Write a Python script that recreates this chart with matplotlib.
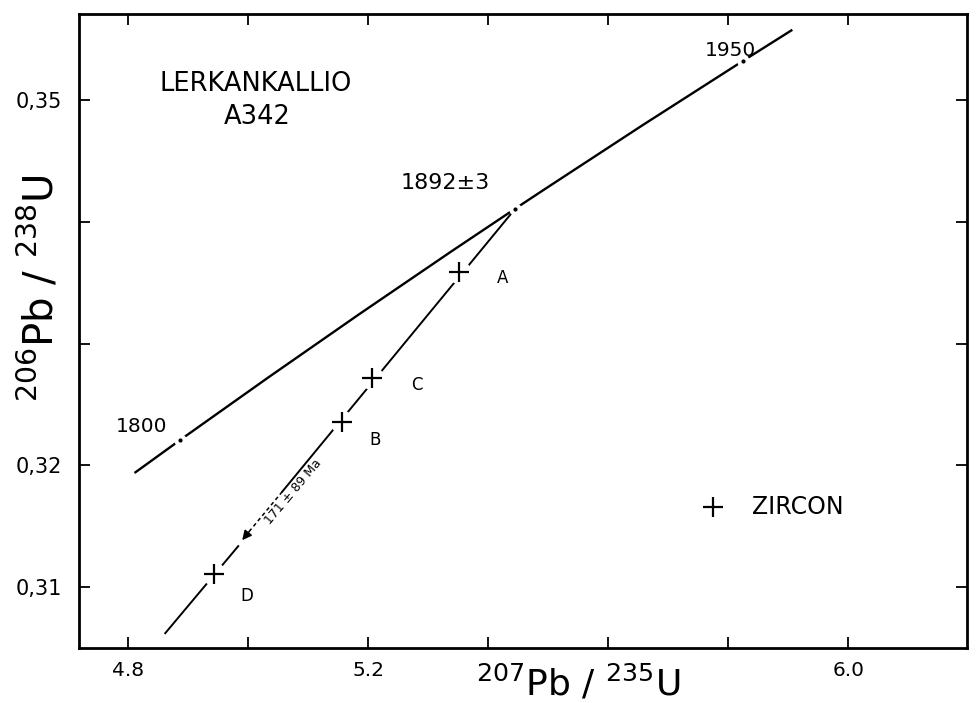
import matplotlib.pyplot as plt

# concordia points (ages in Ma)
conc_age = [1787, 1800, 1825, 1850, 1875, 1892, 1900, 1925, 1950, 1962]
conc_x = [4.812, 4.8869, 5.0336, 5.1840, 5.3382, 5.4452, 5.4962, 5.6581, 5.8241, 5.9052]
conc_y = [0.31944, 0.32211, 0.32724, 0.33240, 0.33758, 0.34111, 0.34277, 0.34799, 0.35323, 0.35575]
marked_ages = [1800, 1892, 1950]

# zircon fractions
frac_names = ['A', 'C', 'B', 'D']
frac_x = [5.3517, 5.2067, 5.1567, 4.9433]
frac_y = [0.33587, 0.32717, 0.32355, 0.31107]

# discordia pieces
disc_upper_x = [5.4452, 5.0567]
disc_upper_y = [0.34111, 0.31785]
disc_dash_x = [5.0567, 5.0033]
disc_dash_y = [0.31785, 0.31468]
arrow_tip = (4.990, 0.31386)
disc_lower_x = [4.9833, 4.8617]
disc_lower_y = [0.31337, 0.30622]

x_ticks = [4.8, 5.0, 5.2, 5.4, 5.6, 5.8, 6.0]
x_labels = ['4.8', '', '5.2', '', '', '', '6.0']
y_ticks = [0.31, 0.32, 0.33, 0.34, 0.35]
y_labels = ['0,31', '0,32', '', '', '0,35']

fig = plt.figure(figsize=(9.77, 7.03), dpi=100)
ax = fig.add_axes([0.0809, 0.0782, 0.9089, 0.9019])

# concordia with age marks
ax.plot(conc_x, conc_y, color='black', lw=1.7, zorder=2)
mx = [conc_x[conc_age.index(a)] for a in marked_ages]
my = [conc_y[conc_age.index(a)] for a in marked_ages]

# discordia
ax.plot(disc_upper_x, disc_upper_y, color='black', lw=1.4, zorder=2)
ax.plot(disc_dash_x, disc_dash_y, color='black', lw=1.1, ls=(0, (2.5, 2)), zorder=2)
ax.annotate('', xy=arrow_tip, xytext=(disc_dash_x[1], disc_dash_y[1]),
            arrowprops=dict(arrowstyle='-|>', color='black', lw=1.1,
                            mutation_scale=14, shrinkA=0, shrinkB=0))
ax.plot(disc_lower_x, disc_lower_y, color='black', lw=1.4, zorder=2)

# gaps on the lines
ax.plot(mx, my, 'o', ms=9, mfc='white', mec='none', zorder=3)
ax.plot(mx, my, 'o', ms=2, color='black', zorder=4)
ax.plot(frac_x, frac_y, 'o', ms=17, mfc='white', mec='none', zorder=3)
ax.plot(frac_x, frac_y, '+', ms=15, mew=1.6, color='black', zorder=4)

# labels
ax.text(5.4233, 0.33538, 'A', fontsize=12, ha='center', va='center')
ax.text(5.2817, 0.32659, 'C', fontsize=12, ha='center', va='center')
ax.text(5.2117, 0.32207, 'B', fontsize=12, ha='center', va='center')
ax.text(4.9983, 0.30926, 'D', fontsize=12, ha='center', va='center')

ax.text(4.823, 0.32322, '1800', fontsize=14.5, ha='center', va='center')
ax.text(5.803, 0.35411, '1950', fontsize=14.5, ha='center', va='center')
ax.text(5.328, 0.34318, '1892±3', fontsize=16, ha='center', va='center')
ax.text(5.075, 0.31780, '171 ± 89 Ma', fontsize=9, ha='center', va='center',
        rotation=50, rotation_mode='anchor')

ax.text(5.012, 0.35131, 'LERKANKALLIO', fontsize=18.5, ha='center', va='center')
ax.text(5.015, 0.34860, 'A342', fontsize=18.5, ha='center', va='center')

ax.plot([5.775], [0.31657], '+', ms=15, mew=1.6, color='black')
ax.text(5.84, 0.31657, 'ZIRCON', fontsize=17, ha='left', va='center')

ax.set_xlim(4.718, 6.198)
ax.set_ylim(0.305, 0.3571)
ax.set_xticks(x_ticks)
ax.set_xticklabels(x_labels)
ax.set_yticks(y_ticks)
ax.set_yticklabels(y_labels)
ax.tick_params(direction='in', length=8, width=1.3, top=True, right=True)
ax.tick_params(axis='x', labelsize=14.5, pad=9)
ax.tick_params(axis='y', labelsize=15, pad=12)
for s in ax.spines.values():
    s.set_linewidth(2)

ax.set_xlabel(r'$^{207}$Pb / $^{235}$U', fontsize=26)
ax.set_ylabel(r'$^{206}$Pb / $^{238}$U', fontsize=29)
ax.xaxis.set_label_coords(0.562, -0.024)
ax.yaxis.set_label_coords(-0.019, 0.568)

fig.savefig('out.png', dpi=100)
